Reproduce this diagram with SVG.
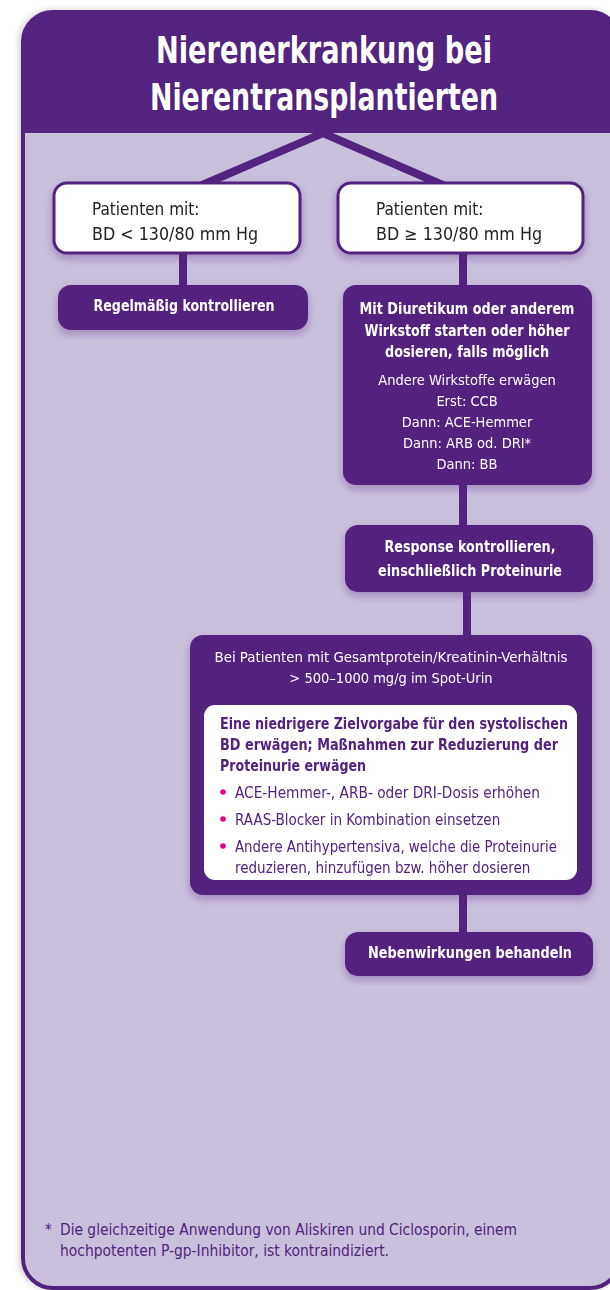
<svg xmlns="http://www.w3.org/2000/svg" width="610" height="1290" viewBox="0 0 610 1290">
<defs>
<style>
.t{font-family:"Liberation Sans Narrow","DejaVu Sans Condensed","Liberation Sans",sans-serif;}
.title{font-size:38px;font-weight:bold;fill:#fff;text-anchor:middle;}
.wb{fill:#fff;stroke:#52237f;stroke-width:3;}
.pb{fill:#52237f;}
.bw{font-size:15px;font-weight:bold;fill:#fff;text-anchor:middle;}
.nw{font-size:14.5px;fill:#fff;text-anchor:middle;}
.dk{font-size:17px;fill:#222;}
.pt{font-size:15px;font-weight:bold;fill:#52237f;}
.pn{font-size:15px;fill:#52237f;}
.fn{font-size:15px;fill:#52237f;}
.con{stroke:#52237f;stroke-width:8;fill:none;}
</style>
<filter id="sh" x="-10%" y="-10%" width="120%" height="130%">
<feDropShadow dx="0" dy="4" stdDeviation="4" flood-color="#52237f" flood-opacity="0.35"/>
</filter>
<filter id="fsh" x="-5%" y="-5%" width="110%" height="110%">
<feDropShadow dx="-2" dy="0" stdDeviation="3" flood-color="#000" flood-opacity="0.2"/>
</filter>
<clipPath id="fr"><rect x="23" y="12" width="597" height="1276" rx="30"/></clipPath>
</defs>
<rect width="610" height="1290" fill="#fff"/>
<g id="frame">
<rect x="23" y="12" width="597" height="1276" rx="30" fill="#c9c1dc" stroke="#52237f" stroke-width="4" filter="url(#fsh)"/>
<rect x="21" y="10" width="600" height="123" fill="#52237f" clip-path="url(#fr)"/>
<text class="t title" x="324" y="63" textLength="336" lengthAdjust="spacingAndGlyphs">Nierenerkrankung bei</text>
<text class="t title" x="324" y="110" textLength="348" lengthAdjust="spacingAndGlyphs">Nierentransplantierten</text>
</g>
<g id="connectors">
<polyline class="con" points="200,186 323,133 445,186"/>
<line class="con" x1="183" y1="253" x2="183" y2="290"/>
<line class="con" x1="463" y1="253" x2="463" y2="290"/>
<line class="con" x1="463" y1="483" x2="463" y2="527"/>
<line class="con" x1="467" y1="590" x2="467" y2="637"/>
<line class="con" x1="463" y1="893" x2="463" y2="934"/>
</g>
<g id="n-low" filter="url(#sh)">
<rect class="wb" x="54" y="183" width="246" height="70" rx="13"/>
<text class="t dk" x="92" y="215">Patienten mit:</text>
<text class="t dk" x="92" y="240" textLength="166" lengthAdjust="spacingAndGlyphs">BD &lt; 130/80 mm Hg</text>
</g>
<g id="n-high" filter="url(#sh)">
<rect class="wb" x="338" y="183" width="245" height="70" rx="13"/>
<text class="t dk" x="376" y="215">Patienten mit:</text>
<text class="t dk" x="376" y="240" textLength="166" lengthAdjust="spacingAndGlyphs">BD ≥ 130/80 mm Hg</text>
</g>
<g id="n-regel" filter="url(#sh)">
<rect class="pb" x="58" y="285" width="250" height="45" rx="13"/>
<text class="t bw" x="184" y="311" textLength="181" lengthAdjust="spacingAndGlyphs">Regelmäßig kontrollieren</text>
</g>
<g id="n-diur" filter="url(#sh)">
<rect class="pb" x="343" y="285" width="249" height="200" rx="13"/>
<text class="t bw" x="467" y="314" textLength="215" lengthAdjust="spacingAndGlyphs">Mit Diuretikum oder anderem</text>
<text class="t bw" x="467" y="336" textLength="205" lengthAdjust="spacingAndGlyphs">Wirkstoff starten oder höher</text>
<text class="t bw" x="467" y="357" textLength="164" lengthAdjust="spacingAndGlyphs">dosieren, falls möglich</text>
<text class="t nw" x="467" y="385">Andere Wirkstoffe erwägen</text>
<text class="t nw" x="467" y="406">Erst: CCB</text>
<text class="t nw" x="467" y="427">Dann: ACE-Hemmer</text>
<text class="t nw" x="467" y="448">Dann: ARB od. DRI*</text>
<text class="t nw" x="467" y="469">Dann: BB</text>
</g>
<g id="n-resp" filter="url(#sh)">
<rect class="pb" x="345" y="525" width="248" height="67" rx="13"/>
<text class="t bw" x="470" y="552" textLength="171" lengthAdjust="spacingAndGlyphs">Response kontrollieren,</text>
<text class="t bw" x="470" y="576" textLength="184" lengthAdjust="spacingAndGlyphs">einschließlich Proteinurie</text>
</g>
<g id="n-bei" filter="url(#sh)">
<rect class="pb" x="190" y="635" width="402" height="260" rx="13"/>
<text class="t nw" x="391" y="662" textLength="353" lengthAdjust="spacingAndGlyphs">Bei Patienten mit Gesamtprotein/Kreatinin-Verhältnis</text>
<text class="t nw" x="391" y="683">&gt; 500–1000 mg/g im Spot-Urin</text>
<rect x="204" y="705" width="373" height="175" rx="11" fill="#fff"/>
<text class="t pt" x="220" y="729" textLength="348" lengthAdjust="spacingAndGlyphs">Eine niedrigere Zielvorgabe für den systolischen</text>
<text class="t pt" x="220" y="750" textLength="338" lengthAdjust="spacingAndGlyphs">BD erwägen; Maßnahmen zur Reduzierung der</text>
<text class="t pt" x="220" y="771" textLength="146" lengthAdjust="spacingAndGlyphs">Proteinurie erwägen</text>
<circle cx="223" cy="792" r="2.8" fill="#e5007e"/>
<text class="t pn" x="235" y="798" textLength="305" lengthAdjust="spacingAndGlyphs">ACE-Hemmer-, ARB- oder DRI-Dosis erhöhen</text>
<circle cx="223" cy="819" r="2.8" fill="#e5007e"/>
<text class="t pn" x="235" y="825">RAAS-Blocker in Kombination einsetzen</text>
<circle cx="223" cy="846" r="2.8" fill="#e5007e"/>
<text class="t pn" x="235" y="852" textLength="322" lengthAdjust="spacingAndGlyphs">Andere Antihypertensiva, welche die Proteinurie</text>
<text class="t pn" x="235" y="873">reduzieren, hinzufügen bzw. höher dosieren</text>
</g>
<g id="n-neben" filter="url(#sh)">
<rect class="pb" x="345" y="932" width="248" height="44" rx="13"/>
<text class="t bw" x="470" y="958" textLength="204" lengthAdjust="spacingAndGlyphs">Nebenwirkungen behandeln</text>
</g>
<g id="footnote">
<text class="t fn" x="45" y="1235">*</text>
<text class="t fn" x="60" y="1235" textLength="457" lengthAdjust="spacingAndGlyphs">Die gleichzeitige Anwendung von Aliskiren und Ciclosporin, einem</text>
<text class="t fn" x="60" y="1256" textLength="329" lengthAdjust="spacingAndGlyphs">hochpotenten P-gp-Inhibitor, ist kontraindiziert.</text>
</g>
</svg>
